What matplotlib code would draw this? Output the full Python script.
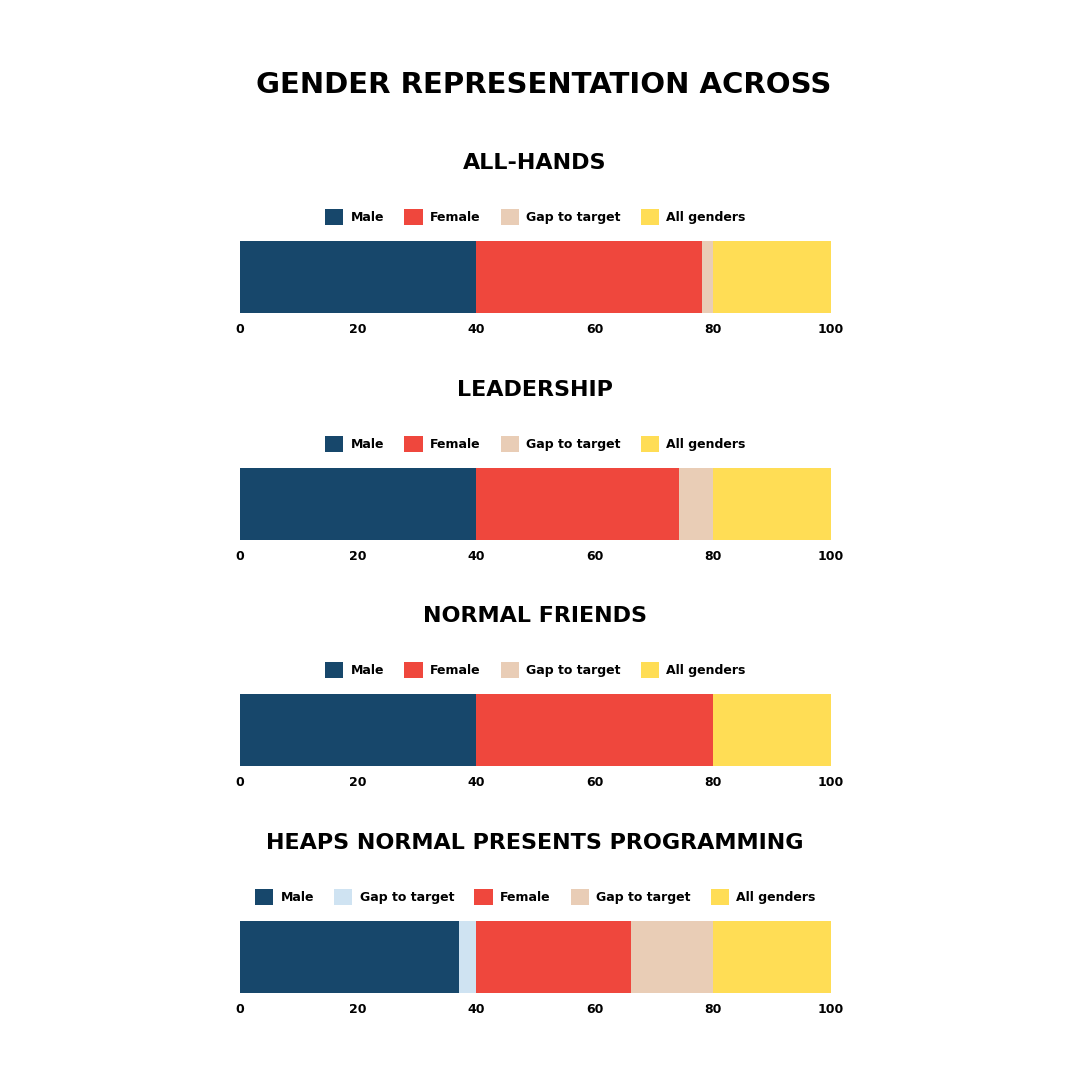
import numpy as np
import matplotlib.pyplot as plt
from matplotlib.patches import Patch

# Data
titles = ['ALL-HANDS', 'LEADERSHIP', 'NORMAL FRIENDS', 'HEAPS NORMAL PRESENTS PROGRAMMING']
male = [40, 40, 40, 37]
male_gap = [0, 0, 0, 3]
female = [38.2, 34.3, 40, 26.2]
female_gap = [1.8, 5.7, 0, 13.8]
all_genders = [20, 20, 20, 20]
ticks = [0, 20, 40, 60, 80, 100]

c_male = '#17476b'
c_male_gap = '#cfe3f2'
c_female = '#ef473d'
c_female_gap = '#e9cdb6'
c_all = '#ffdd55'

plt.rcParams['font.family'] = ['DejaVu Sans']

fig = plt.figure(figsize=(10.8, 10.8), dpi=100)
fig.text(544 / 1080, 1 - 85 / 1080, 'GENDER REPRESENTATION ACROSS', ha='center', va='center',
         fontsize=21, fontweight='bold')

# bar tops in pixels
bar_tops = [241, 468, 694, 921]
bar_h = 72

for i, title in enumerate(titles):
    top = bar_tops[i]
    ax = fig.add_axes([240 / 1080, 1 - (top + bar_h) / 1080, 591 / 1080, bar_h / 1080])

    if male_gap[i] > 0:
        segs = [('Male', male[i], c_male), ('Gap to target', male_gap[i], c_male_gap),
                ('Female', female[i], c_female), ('Gap to target', female_gap[i], c_female_gap),
                ('All genders', all_genders[i], c_all)]
    else:
        segs = [('Male', male[i], c_male), ('Female', female[i], c_female),
                ('Gap to target', female_gap[i], c_female_gap),
                ('All genders', all_genders[i], c_all)]

    left = 0
    handles = []
    for label, val, col in segs:
        ax.barh(0, val, left=left, height=1, color=col, edgecolor='none')
        left += val
        handles.append(Patch(facecolor=col, label=label))

    ax.set_xlim(0, 100)
    ax.set_ylim(-0.5, 0.5)
    ax.set_yticks([])
    ax.set_xticks(ticks)
    ax.set_xticklabels([str(t) for t in ticks], fontsize=9, fontweight='bold')
    ax.tick_params(axis='x', length=0, pad=7)
    for s in ax.spines.values():
        s.set_visible(False)

    fig.text(535 / 1080, 1 - (top - 78) / 1080, title, ha='center', va='center',
             fontsize=16, fontweight='bold')
    ax.legend(handles=handles, loc='center', bbox_to_anchor=(0.5, 1 + 24 / bar_h),
              ncol=len(handles), frameon=False,
              prop={'weight': 'bold', 'size': 9},
              handlelength=1.45, handleheight=1.6, handletextpad=0.6, columnspacing=1.6)

fig.savefig('out.png', dpi=100, facecolor='white')
